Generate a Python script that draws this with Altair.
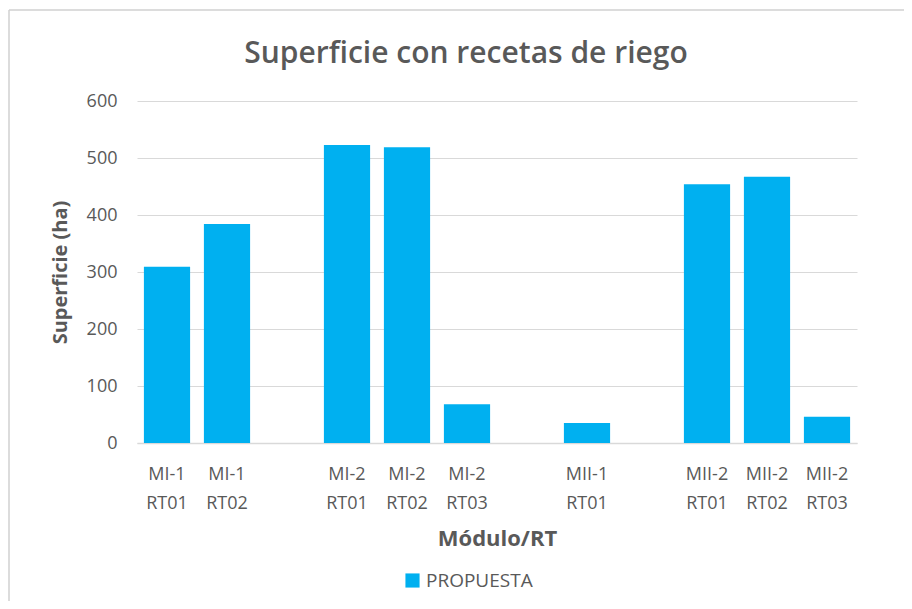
import altair as alt
import pandas as pd

categories = ["MI-1 RT01", "MI-1 RT02", "g1", "MI-2 RT01", "MI-2 RT02", "MI-2 RT03",
              "g2", "MII-1 RT01", "g3", "MII-2 RT01", "MII-2 RT02", "MII-2 RT03"]
values = [309, 384, None, 523, 519, 68, None, 35, None, 454, 467, 46]
series = ["PROPUESTA"] * len(categories)

df = pd.DataFrame({"cat": categories, "val": values, "serie": series})
df_bars = df.dropna()

FONT = "Open Sans"
GREY = "#595959"

bars = alt.Chart(df_bars).mark_bar(color="#00B0F0").encode(
    x=alt.X("cat:N", sort=categories,
            scale=alt.Scale(domain=categories, paddingInner=0.23, paddingOuter=0.115),
            axis=alt.Axis(title="Módulo/RT", labelAngle=0,
                          labelExpr="test(/^g/, datum.value) ? '' : split(datum.value, ' ')",
                          labelLineHeight=29, labelPadding=22, ticks=False,
                          domainColor="#d9d9d9", domainWidth=1.5,
                          labelFont=FONT, labelFontSize=18, labelColor=GREY,
                          titleFont=FONT, titleFontSize=22, titleFontWeight="bold",
                          titleColor=GREY, titleX=360, titleY=95,
                          titleBaseline="middle", titleAlign="center")),
    y=alt.Y("val:Q", scale=alt.Scale(domain=[0, 600]),
            axis=alt.Axis(title="Superficie (ha)", values=[0, 100, 200, 300, 400, 500, 600],
                          ticks=False, domain=False, gridColor="#d9d9d9", gridWidth=1,
                          labelPadding=20, labelFont=FONT, labelFontSize=18, labelColor=GREY,
                          titleFont=FONT, titleFontSize=20, titleFontWeight="bold",
                          titleColor=GREY, titleX=-77, titleY=171,
                          titleBaseline="middle", titleAlign="center")),
    fill=alt.Fill("serie:N", scale=alt.Scale(range=["#00B0F0"]),
                  legend=alt.Legend(title=None, orient="none", legendX=266, legendY=470,
                                    symbolType="square", symbolSize=200,
                                    symbolStrokeWidth=0,
                                    labelFont=FONT, labelFontSize=19, labelColor=GREY)),
)

border = alt.Chart(pd.DataFrame({"a": [0]})).mark_rule(color="#d0d0d0", strokeWidth=1.5).encode(
    x=alt.value(-128), x2=alt.value(900), y=alt.value(-91)
)
border_left = alt.Chart(pd.DataFrame({"a": [0]})).mark_rule(color="#d0d0d0", strokeWidth=1.5).encode(
    x=alt.value(-128), y=alt.value(-91), y2=alt.value(520)
)

chart = alt.layer(bars, border, border_left).properties(
    width=720, height=342,
    autosize=alt.AutoSizeParams(type="none"),
    padding={"left": 129, "top": 93, "right": 47, "bottom": 158},
    title=alt.TitleParams("Superficie con recetas de riego", font=FONT, fontSize=30,
                          fontWeight=600, color=GREY, anchor="middle", dx=-31, offset=-60,
                          frame="group"),
).configure_view(stroke=None)

chart.save("out.html", embed_options={"renderer": "svg", "actions": False})
